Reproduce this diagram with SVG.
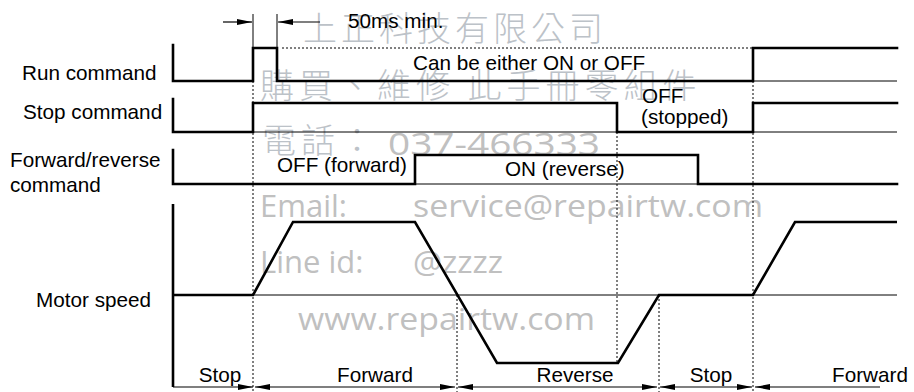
<svg xmlns="http://www.w3.org/2000/svg" width="914" height="392" viewBox="0 0 914 392">
<style>
.wm{fill:#bcc2c8;font-family:"Noto Sans CJK TC","Noto Sans",sans-serif;font-size:34px;font-weight:200}
.wl{fill:#c0c0c0;font-family:"Open Sans","Noto Sans",sans-serif;font-size:31px}
.t{fill:#000;font-family:"Liberation Sans",Arial,sans-serif;font-size:20.7px}
.m{text-anchor:middle}
.thick{fill:none;stroke:#000;stroke-width:2.6;stroke-linejoin:miter;stroke-linecap:square}
.thin{fill:none;stroke:#000;stroke-width:1}
.dot{fill:none;stroke:#000;stroke-width:1;stroke-dasharray:2,2}
.dim{fill:none;stroke:#000;stroke-width:1.2}
</style>
<defs>
<marker id="arr" markerUnits="userSpaceOnUse" markerWidth="16" markerHeight="8" refX="15" refY="3.5" orient="auto-start-reverse">
<path d="M0,0.5 L15,3.5 L0,6.5 z" fill="#000"/>
</marker>
</defs>
<rect width="914" height="392" fill="#fff"/>
<g id="watermark">
<text class="wm" x="303" y="41" letter-spacing="4">上正科技有限公司</text>
<text class="wm" x="260" y="98" letter-spacing="5">購買、維修 此手冊零組件</text>
<text class="wm" x="262" y="153" letter-spacing="5">電話：</text>
<text class="wl" x="388" y="155" textLength="212" lengthAdjust="spacingAndGlyphs">037-466333</text>
<text class="wl" x="260" y="217">Email:</text>
<text class="wl" x="413" y="217" textLength="350" lengthAdjust="spacingAndGlyphs">service@repairtw.com</text>
<text class="wl" x="260" y="273">Line id:</text>
<text class="wl" x="413" y="273" textLength="90" lengthAdjust="spacingAndGlyphs">@zzzz</text>
<text class="wl" x="298" y="330" textLength="297" lengthAdjust="spacingAndGlyphs">www.repairtw.com</text>
</g>
<g id="guides">
<line class="dot" x1="253" y1="81" x2="253" y2="392"/>
<line class="dot" x1="457" y1="295" x2="457" y2="392"/>
<line class="dot" x1="617" y1="132" x2="617" y2="363"/>
<line class="dot" x1="659" y1="295" x2="659" y2="392"/>
<line class="dot" x1="753" y1="81" x2="753" y2="392"/>
</g>
<g id="run-command">
<text class="t" x="22" y="80">Run command</text>
<polyline class="thick" points="173,45 173,81 253,81 253,48 277,48 277,81 753,81 753,48 897,48"/>
<line class="thin" x1="753" y1="81" x2="897" y2="81"/>
<line class="dot" x1="282" y1="48" x2="753" y2="48"/>
<text class="t" x="413" y="70">Can be either ON or OFF</text>
</g>
<g id="dimension-50ms">
<line class="thin" x1="253" y1="14" x2="253" y2="48"/>
<line class="thin" x1="277" y1="14" x2="277" y2="48"/>
<line class="dim" x1="223" y1="22" x2="252" y2="22" marker-end="url(#arr)"/>
<line class="dim" x1="320" y1="22" x2="278" y2="22" marker-end="url(#arr)"/>
<text class="t" x="348" y="28">50ms min.</text>
</g>
<g id="stop-command">
<text class="t" x="23" y="119">Stop command</text>
<polyline class="thick" points="173,99 173,132 253,132 253,103 617,103 617,132 753,132 753,103 897,103"/>
<line class="thin" x1="253" y1="132" x2="617" y2="132"/>
<line class="thin" x1="753" y1="132" x2="897" y2="132"/>
<text class="t" x="642" y="102.5">OFF</text>
<text class="t" x="641" y="124">(stopped)</text>
</g>
<g id="forward-reverse-command">
<text class="t" x="10" y="167">Forward/reverse</text>
<text class="t" x="10" y="192">command</text>
<polyline class="thick" points="173,150 173,184 415,184 415,155 698,155 698,184 897,184"/>
<line class="thin" x1="415" y1="184" x2="698" y2="184"/>
<text class="t" x="277" y="171.5">OFF (forward)</text>
<text class="t" x="505" y="175.5">ON (reverse)</text>
</g>
<g id="motor-speed">
<text class="t" x="36" y="307">Motor speed</text>
<line class="thick" x1="173" y1="204" x2="173" y2="387" style="stroke-linecap:butt"/>
<line class="thin" x1="253" y1="295" x2="897" y2="295"/>
<polyline class="thick" points="173,295 253,295 293,222 415,222 497,363 618,363 659,295 753,295 795,222 897,222" style="stroke-linecap:butt"/>
</g>
<g id="connectors">
<line class="dim" x1="173" y1="387" x2="253" y2="387" marker-end="url(#arr)"/>
<line class="dim" x1="255" y1="387" x2="455" y2="387" marker-start="url(#arr)" marker-end="url(#arr)"/>
<line class="dim" x1="458" y1="387" x2="657" y2="387" marker-start="url(#arr)" marker-end="url(#arr)"/>
<line class="dim" x1="660" y1="387" x2="752" y2="387" marker-start="url(#arr)" marker-end="url(#arr)"/>
<line class="dim" x1="755" y1="387" x2="880" y2="387" marker-start="url(#arr)"/>
</g>
<g id="phase-labels">
<text class="t m" x="220" y="381.5">Stop</text>
<text class="t m" x="375" y="381.5">Forward</text>
<text class="t m" x="575" y="381.5">Reverse</text>
<text class="t m" x="711" y="381.5">Stop</text>
<text class="t m" x="870" y="381.5">Forward</text>
</g>
</svg>
